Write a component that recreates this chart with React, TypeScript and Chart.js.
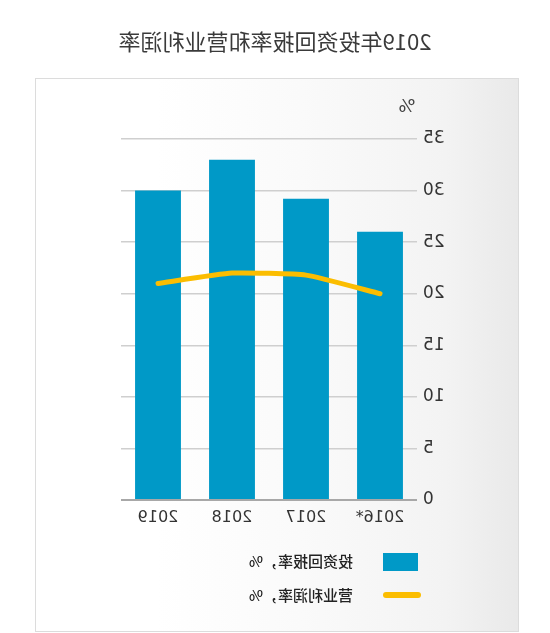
import React, { useEffect, useRef } from "react";
import { Chart, registerables } from "chart.js";

Chart.register(...registerables);

const titleText = "2019年投资回报率和营业利润率";
const categories = ["2016*", "2017", "2018", "2019"];
const roiValues = [26, 29.2, 33, 30];
const marginValues = [20.0, 21.8, 22.0, 21.0];
const yTicks = [0, 5, 10, 15, 20, 25, 30, 35];
const unitLabel = "%";
const roiLabel = "投资回报率，%";
const marginLabel = "营业利润率，%";

const BLUE = "#0099c7";
const YELLOW = "#fbbd00";
const FONT = "'DejaVu Sans', 'Noto Sans CJK SC', sans-serif";
const CJK = "'Noto Sans CJK SC', 'DejaVu Sans', sans-serif";

const unitPlugin = {
  id: "unitLabel",
  afterDraw(chart: any) {
    const { ctx, chartArea } = chart;
    ctx.save();
    ctx.fillStyle = "#444";
    ctx.font = "18px " + FONT;
    ctx.textAlign = "center";
    ctx.textBaseline = "middle";
    ctx.fillText(unitLabel, chartArea.left + 10, chartArea.top - 32);
    ctx.restore();
  },
};

export default function App() {
  const ref = useRef<HTMLCanvasElement>(null);
  useEffect(() => {
    if (!ref.current) return;
    const chart = new Chart(ref.current, {
      type: "bar",
      data: {
        labels: categories,
        datasets: [
          {
            type: "line",
            label: marginLabel,
            data: marginValues,
            borderColor: YELLOW,
            backgroundColor: YELLOW,
            borderWidth: 5,
            borderCapStyle: "round",
            borderJoinStyle: "round",
            pointRadius: 0,
            tension: 0.15,
            order: 0,
          } as any,
          {
            type: "bar",
            label: roiLabel,
            data: roiValues,
            backgroundColor: BLUE,
            categoryPercentage: 1,
            barPercentage: 0.62,
            order: 1,
          },
        ],
      },
      options: {
        responsive: false,
        animation: false,
        layout: { padding: { left: 73, right: 121, top: 139, bottom: 93 } },
        plugins: {
          legend: { display: false },
          title: { display: false },
          tooltip: { enabled: false },
        },
        scales: {
          x: {
            grid: { display: false, drawTicks: false },
            border: { display: false },
            ticks: {
              color: "#333",
              font: { size: 16, family: FONT },
              padding: 8,
            },
            afterFit: (s: any) => {
              s.height = 40;
            },
          },
          y: {
            min: 0,
            max: 35,
            afterBuildTicks: (s: any) => {
              s.ticks = yTicks.map((v) => ({ value: v }));
            },
            grid: {
              drawTicks: false,
              color: (c: any) => (c.tick && c.tick.value === 0 ? "#a8a8a8" : "#cfcfcf"),
              lineWidth: (c: any) => (c.tick && c.tick.value === 0 ? 2 : 1.5),
            },
            border: { display: false },
            ticks: {
              color: "#333",
              font: { size: 17, family: FONT },
              padding: 6,
            },
            afterFit: (s: any) => {
              s.width = 60;
            },
          },
        },
      },
      plugins: [unitPlugin],
    });
    return () => chart.destroy();
  }, []);

  const legendText: React.CSSProperties = {
    position: "absolute",
    left: 197,
    fontFamily: CJK,
    fontSize: 15,
    fontWeight: 500,
    lineHeight: "22px",
    color: "#222",
    whiteSpace: "nowrap",
  };

  return (
    <div
      style={{
        position: "absolute",
        left: 0,
        top: 0,
        width: 550,
        height: 633,
        background: "#fff",
        transform: "scaleX(-1)",
        overflow: "hidden",
      }}
    >
      <div
        style={{
          position: "absolute",
          left: 0,
          top: 24,
          width: 550,
          textAlign: "center",
          fontFamily: CJK,
          fontSize: 22,
          lineHeight: "32px",
          color: "#3a3a3a",
        }}
      >
        {titleText}
      </div>
      <div
        style={{
          position: "absolute",
          left: 31,
          top: 78,
          width: 484,
          height: 554,
          boxSizing: "border-box",
          border: "1px solid #dcdcdc",
          background:
            "linear-gradient(90deg, #e9e9e9 0%, #f3f3f3 15%, #fafafa 45%, #ffffff 75%, #ffffff 100%)",
        }}
      />
      <canvas
        ref={ref}
        width={550}
        height={633}
        style={{ position: "absolute", left: 0, top: 0, width: 550, height: 633 }}
      />
      <div
        style={{
          position: "absolute",
          left: 132,
          top: 553,
          width: 35,
          height: 18,
          background: BLUE,
        }}
      />
      <div style={{ ...legendText, top: 550 }}>{roiLabel}</div>
      <div
        style={{
          position: "absolute",
          left: 129,
          top: 592,
          width: 38,
          height: 6,
          borderRadius: 3,
          background: YELLOW,
        }}
      />
      <div style={{ ...legendText, top: 584 }}>{marginLabel}</div>
    </div>
  );
}
